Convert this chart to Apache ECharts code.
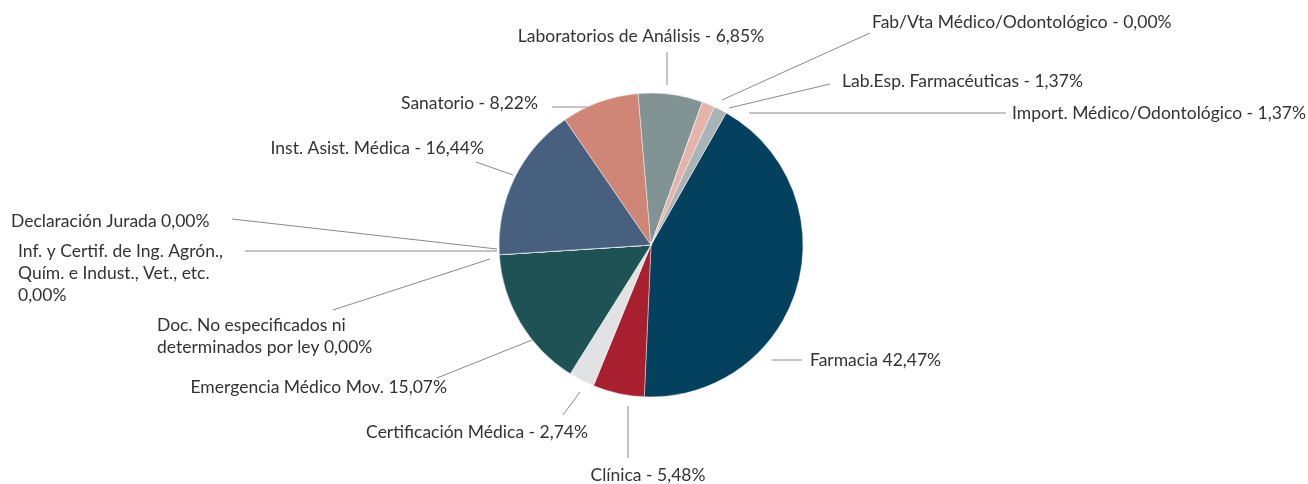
<!DOCTYPE html>
<html>
<head>
<meta charset="utf-8">
<script src="https://cdn.jsdelivr.net/npm/echarts@6/dist/echarts.min.js"></script>
<style>
html,body{margin:0;padding:0;background:#fff;}
#chart{width:1308px;height:484px;}
</style>
</head>
<body>
<div id="chart"></div>
<script>
// ---- data ----
const categories = [
  'Farmacia',
  'Clínica',
  'Certificación Médica',
  'Emergencia Médico Mov.',
  'Doc. No especificados ni determinados por ley',
  'Inf. y Certif. de Ing. Agrón., Quím. e Indust., Vet., etc.',
  'Declaración Jurada',
  'Inst. Asist. Médica',
  'Sanatorio',
  'Laboratorios de Análisis',
  'Fab/Vta Médico/Odontológico',
  'Lab.Esp. Farmacéuticas',
  'Import. Médico/Odontológico'
];
const values = [42.47, 5.48, 2.74, 15.07, 0, 0, 0, 16.44, 8.22, 6.85, 0, 1.37, 1.37];
const labelTexts = [
  'Farmacia ',
  'Clínica - ',
  'Certificación Médica - ',
  'Emergencia Médico Mov. ',
  'Doc. No especificados ni\ndeterminados por ley ',
  'Inf. y Certif. de Ing. Agrón.,\nQuím. e Indust., Vet., etc.\n',
  'Declaración Jurada ',
  'Inst. Asist. Médica - ',
  'Sanatorio - ',
  'Laboratorios de Análisis - ',
  'Fab/Vta Médico/Odontológico - ',
  'Lab.Esp. Farmacéuticas - ',
  'Import. Médico/Odontológico - '
];
const colors = ['#03415f', '#a8202f', '#e0e2e3', '#1f5254', '#1f5254', '#1f5254', '#47607f',
  '#47607f', '#cf8677', '#829393', '#e4b3a9', '#e4b3a9', '#aab4b6'];

// ---- label placement (layout only) ----
// [textX, textY, align, lineStart[x,y], lineEnd[x,y]]
const labelPlacement = [
  [810, 360, 'left',   [772, 360], [802, 360]],
  [648, 475, 'center', [628, 406], [628, 458]],
  [588, 432, 'right',  [580, 392], [563, 415]],
  [447, 387, 'right',  [532, 340], [437, 378]],
  [157, 336, 'left',   [490, 259], [333, 310]],
  [18,  273, 'left',   [497, 251], [245, 251]],
  [11,  221, 'left',   [497, 249], [232, 219]],
  [484, 148, 'right',  [513, 175], [476, 162]],
  [538, 103, 'right',  [600, 107], [552, 107]],
  [641, 36,  'center', [667, 85],  [667, 52]],
  [872, 22,  'left',   [722, 100], [870, 33]],
  [842, 81,  'left',   [729, 108], [830, 84]],
  [1012, 113,'left',   [749, 113], [1006, 113]]
];

const fmt = v => v.toFixed(2).replace('.', ',') + '%';

const chart = echarts.init(document.getElementById('chart'), null, {renderer: 'canvas'});
chart.setOption({
  animation: false,
  backgroundColor: '#fff',
  series: [{
    type: 'pie',
    center: [651, 245],
    radius: 152,
    startAngle: 60.35,
    clockwise: true,
    avoidLabelOverlap: false,
    itemStyle: {borderColor: 'rgba(255,255,255,0.7)', borderWidth: 0.6},
    label: {
      show: true,
      position: 'outside',
      color: '#333',
      fontFamily: 'Lato',
      fontSize: 17.5,
      lineHeight: 22,
      formatter: p => labelTexts[p.dataIndex] + fmt(p.value)
    },
    labelLine: {show: true, lineStyle: {color: '#8a8a8a', width: 1}},
    labelLayout: function (params) {
      const pl = labelPlacement[params.dataIndex];
      return {
        x: pl[0], y: pl[1], align: pl[2], verticalAlign: 'middle',
        labelLinePoints: [pl[3], pl[4], pl[4]]
      };
    },
    data: categories.map((c, i) => ({name: c, value: values[i], itemStyle: {color: colors[i]}}))
  }]
});
</script>
</body>
</html>
